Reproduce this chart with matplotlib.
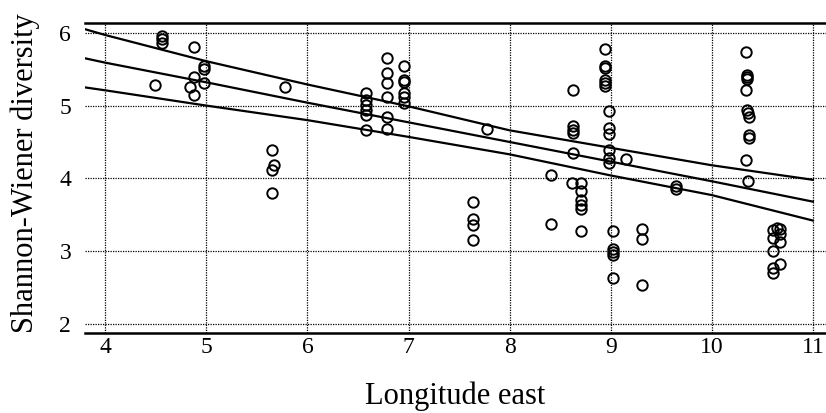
import matplotlib.pyplot as plt

# scatter points (longitude east, Shannon-Wiener diversity)
lon = [4.49, 4.56, 4.56, 4.56, 4.84, 4.88, 4.88, 4.88, 4.98, 4.98, 4.98,
       5.65, 5.65, 5.65, 5.67, 5.78,
       6.58, 6.58, 6.58, 6.58, 6.58, 6.58,
       6.79, 6.79, 6.79, 6.79, 6.79, 6.79,
       6.96, 6.96, 6.96, 6.96, 6.96, 6.96,
       7.64, 7.64, 7.64, 7.64, 7.78, 8.41, 8.41,
       8.63, 8.63, 8.63, 8.63, 8.63, 8.62,
       8.71, 8.71, 8.71, 8.71, 8.71, 8.71,
       8.94, 8.94, 8.94, 8.94, 8.94, 8.94,
       8.98, 8.98, 8.98, 8.98, 8.98, 8.98,
       9.02, 9.02, 9.02, 9.02, 9.02, 9.15,
       9.31, 9.31, 9.31, 9.65, 9.65,
       10.34, 10.35, 10.35, 10.35, 10.34, 10.35, 10.36, 10.37, 10.37, 10.37, 10.34, 10.36,
       10.61, 10.65, 10.67, 10.67, 10.61, 10.67, 10.61, 10.67, 10.61, 10.61]
div = [5.28, 5.96, 5.91, 5.86, 5.25, 5.80, 5.39, 5.14, 5.55, 5.50, 5.31,
       4.39, 4.12, 3.80, 4.18, 5.26,
       5.18, 5.08, 5.01, 4.94, 4.87, 4.67,
       5.65, 5.45, 5.31, 5.12, 4.85, 4.68,
       5.55, 5.35, 5.33, 5.17, 5.12, 5.03,
       3.67, 3.44, 3.36, 3.15, 4.68, 4.04, 3.37,
       5.21, 4.72, 4.66, 4.62, 4.35, 3.94,
       3.94, 3.83, 3.70, 3.64, 3.58, 3.27,
       5.78, 5.54, 5.51, 5.35, 5.31, 5.27,
       4.92, 4.69, 4.61, 4.39, 4.28, 4.21,
       3.27, 3.03, 2.99, 2.94, 2.63, 4.27,
       3.31, 3.16, 2.53, 3.89, 3.85,
       5.73, 5.42, 5.39, 5.36, 5.21, 4.94, 4.90, 4.84, 4.60, 4.55, 4.25, 3.97,
       3.29, 3.32, 3.30, 3.24, 3.18, 3.12, 3.00, 2.82, 2.77, 2.70]

# regression line and confidence band, read at a few longitudes
fit_x = [3.8, 4, 5, 6, 7, 8, 9, 10, 11]
fit_upper = [6.05, 5.97, 5.61, 5.29, 4.99, 4.66, 4.42, 4.18, 3.98]
fit_mid = [5.65, 5.59, 5.32, 5.04, 4.77, 4.50, 4.23, 3.96, 3.68]
fit_lower = [5.25, 5.21, 5.00, 4.80, 4.57, 4.33, 4.04, 3.77, 3.42]

x_ticks = [4, 5, 6, 7, 8, 9, 10, 11]
y_ticks = [2, 3, 4, 5, 6]

plt.rcParams['font.family'] = ['Liberation Serif', 'DejaVu Serif']

fig = plt.figure(figsize=(8.26, 4.13), dpi=100)
ax = fig.add_axes([0.103, 0.194, 0.897, 0.7506])

ax.grid(True, color='black', linestyle=(0, (1, 1)), linewidth=0.9)
ax.set_axisbelow(True)

for band in (fit_upper, fit_mid, fit_lower):
    ax.plot(fit_x, band, color='black', linewidth=1.6, zorder=3)

ax.plot(lon, div, linestyle='none', marker='o', markersize=7.5,
        markerfacecolor='none', markeredgecolor='black', markeredgewidth=1.4, zorder=4)

ax.set_xlim(3.8, 11.13)
ax.set_ylim(1.876, 6.137)
ax.set_xticks(x_ticks)
ax.set_yticks(y_ticks)
ax.tick_params(length=0, labelsize=17)
ax.tick_params(axis='x', pad=3)
ax.tick_params(axis='y', pad=10)

ax.spines['left'].set_visible(False)
ax.spines['right'].set_visible(False)
ax.spines['top'].set_linewidth(1.8)
ax.spines['bottom'].set_linewidth(1.8)

ax.set_xlabel('Longitude east', fontsize=22, va='center')
ax.xaxis.set_label_coords(0.5, -0.206)
ax.set_ylabel('Shannon-Wiener diversity', fontsize=22, va='center')
ax.yaxis.set_label_coords(-0.081, 0.516)

fig.savefig('out.png', dpi=100)
